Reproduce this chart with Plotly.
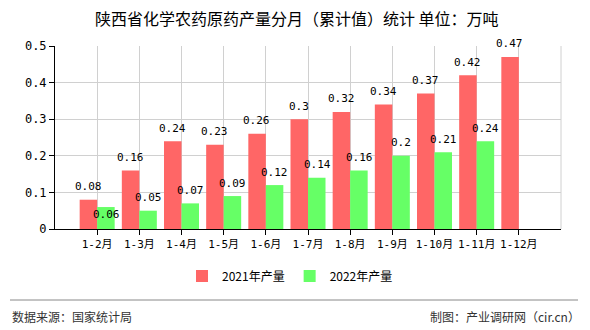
import plotly.graph_objects as go

categories = ["1-2月", "1-3月", "1-4月", "1-5月", "1-6月", "1-7月", "1-8月", "1-9月", "1-10月", "1-11月", "1-12月"]
values_2021 = [0.08, 0.16, 0.24, 0.23, 0.26, 0.3, 0.32, 0.34, 0.37, 0.42, 0.47]
values_2022 = [0.06, 0.05, 0.07, 0.09, 0.12, 0.14, 0.16, 0.2, 0.21, 0.24, None]
y_ticks = [0, 0.1, 0.2, 0.3, 0.4, 0.5]
y_tick_labels = ["0", "0.1", "0.2", "0.3", "0.4", "0.5"]

RED = "#FF6666"
GREEN = "#66FF66"
MONO = "'DejaVu Sans Mono', 'Noto Sans CJK SC', monospace"
CJK = "'Noto Sans CJK SC', sans-serif"

fig = go.Figure()
fig.add_trace(go.Bar(name="2021年产量", x=categories, y=values_2021, marker_color=RED,
                     marker_line_width=0, hoverinfo="skip"))
fig.add_trace(go.Bar(name="2022年产量", x=categories, y=values_2022, marker_color=GREEN,
                     marker_line_width=0, hoverinfo="skip"))

annotations = []
for i, (c, v) in enumerate(zip(categories, values_2021)):
    if v is not None:
        annotations.append(dict(x=c, y=v, xref="x", yref="y", text=f"{v:g}", showarrow=False,
                                xshift=-9, yshift=13, font=dict(family=MONO, size=11, color="#000")))
for i, (c, v) in enumerate(zip(categories, values_2022)):
    if v is not None:
        ys = -7 if i == 0 else 13
        annotations.append(dict(x=c, y=v, xref="x", yref="y", text=f"{v:g}", showarrow=False,
                                xshift=9, yshift=ys, font=dict(family=MONO, size=11, color="#000")))

annotations += [
    dict(text="陕西省化学农药原药产量分月（累计值）统计 单位：万吨", x=297, y=18, xref="paper", yref="paper",
         showarrow=False, font=dict(family=CJK, size=16, color="#000")),
    dict(text="数据来源：国家统计局", x=10, y=316, xref="paper", yref="paper", showarrow=False,
         xanchor="left", font=dict(family=CJK, size=12, color="#333")),
    dict(text="制图：产业调研网（cir.cn）", x=582, y=316, xref="paper", yref="paper", showarrow=False,
         xanchor="right", font=dict(family=CJK, size=12, color="#333")),
]

W, H = 590, 330
ML, MR, MT, MB = 55, 29, 46, 101
pw, ph = W - ML - MR, H - MT - MB
for a in annotations[-3:]:
    a["x"] = (a["x"] - ML) / pw
    a["y"] = (H - MB - a["y"]) / ph
    a["yanchor"] = "middle"

fig.update_layout(
    width=W, height=H,
    margin=dict(l=ML, r=MR, t=MT, b=MB),
    paper_bgcolor="white", plot_bgcolor="white",
    barmode="group", bargap=0.17, bargroupgap=0,
    showlegend=True,
    legend=dict(orientation="h", x=(290 - ML) / pw, xanchor="center", y=(H - MB - 276) / ph,
                yanchor="middle", font=dict(family=CJK, size=12, color="#000"), itemwidth=30,
                traceorder="normal"),
    annotations=annotations,
    xaxis=dict(type="category", range=[-1, 11], showgrid=True, gridcolor="#D0D0D0", gridwidth=1,
               showline=True, linecolor="#000", linewidth=1, ticks="outside", ticklen=5,
               tickangle=0, tickcolor="#000", tickfont=dict(family=MONO, size=11, color="#000"),
               fixedrange=True),
    yaxis=dict(range=[0, 0.5], tickvals=y_ticks, ticktext=y_tick_labels, showgrid=True,
               gridcolor="#D0D0D0", gridwidth=1, showline=True, linecolor="#000", linewidth=1,
               ticks="outside", ticklen=5, tickcolor="#000", zeroline=False,
               tickfont=dict(family=MONO, size=12, color="#000"), fixedrange=True),
    shapes=[
        dict(type="line", xref="paper", yref="paper", x0=1, x1=1, y0=0, y1=1,
             line=dict(color="#D0D0D0", width=1)),
        dict(type="line", xref="paper", yref="paper", x0=(10 - ML) / pw, x1=(578 - ML) / pw,
             y0=(H - MB - 300) / ph, y1=(H - MB - 300) / ph, line=dict(color="#888", width=1)),
    ],
)

fig.write_html("out.html")
